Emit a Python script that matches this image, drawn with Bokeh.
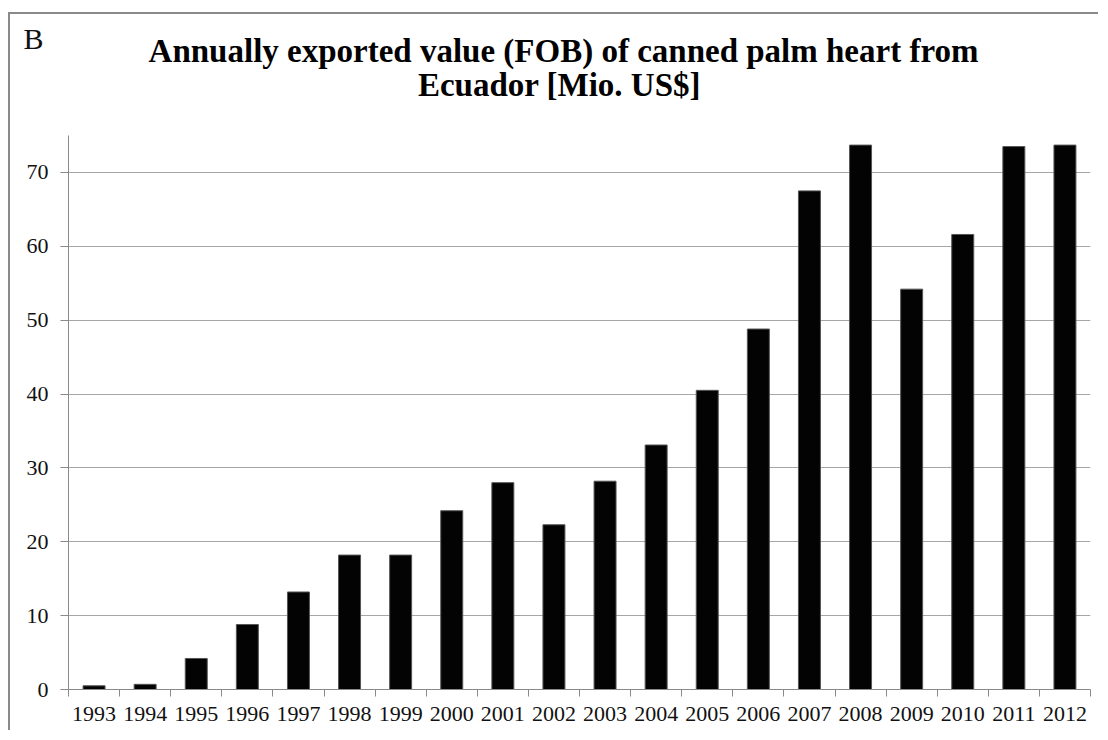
from bokeh.plotting import figure
from bokeh.models import Range1d, FixedTicker, Label, ColumnDataSource
from bokeh.embed import file_html
from bokeh.resources import INLINE

years = ["1993", "1994", "1995", "1996", "1997", "1998", "1999", "2000", "2001", "2002",
         "2003", "2004", "2005", "2006", "2007", "2008", "2009", "2010", "2011", "2012"]
values = [0.5, 0.7, 4.2, 8.8, 13.2, 18.2, 18.2, 24.2, 28.0, 22.3,
          28.2, 33.1, 40.5, 48.8, 67.5, 73.7, 54.2, 61.6, 73.5, 73.7]
y_ticks = [0, 10, 20, 30, 40, 50, 60, 70]
title_line1 = "Annually exported value (FOB) of canned palm heart from"
title_line2 = "Ecuador [Mio. US$]"
panel_letter = "B"

pos = list(range(1, len(years) + 1))
source = ColumnDataSource(dict(x=pos, top=values, year=years))

FONT = "Liberation Serif"

p = figure(width=1090, height=718, output_backend="svg", toolbar_location=None,
           x_range=Range1d(0.5, len(years) + 0.5), y_range=Range1d(0, 75),
           min_border_left=58, min_border_right=10, min_border_top=121, min_border_bottom=43)
p.styles = {"margin-left": "8px", "margin-top": "12px",
            "border-left": "2px solid #8a8a8a", "border-top": "2px solid #8a8a8a"}
p.outline_line_color = None
p.background_fill_color = "white"
p.border_fill_color = "white"

p.vbar(x="x", top="top", width=0.43, bottom=0, source=source,
       fill_color="#030303", line_color="#555555", line_width=1)

# x axis: labels centred on categories, tick marks at category boundaries
xt = FixedTicker(ticks=pos, minor_ticks=[i + 0.5 for i in range(0, len(years) + 1)])
p.xaxis.ticker = xt
p.xaxis.major_label_overrides = {i: y for i, y in zip(pos, years)}
p.xaxis.major_tick_out = 0
p.xaxis.major_tick_in = 0
p.xaxis.minor_tick_out = 7
p.xaxis.minor_tick_in = 0
p.xaxis.minor_tick_line_color = "#8a8a8a"
p.xaxis.axis_line_color = "#8a8a8a"
p.xaxis.major_label_standoff = 10
p.xaxis.major_label_text_font = FONT
p.xaxis.major_label_text_font_size = "22px"
p.xaxis.major_label_text_color = "#111111"

p.yaxis.ticker = FixedTicker(ticks=y_ticks)
p.yaxis.major_tick_out = 8
p.yaxis.major_tick_in = 0
p.yaxis.minor_tick_out = 0
p.yaxis.minor_tick_in = 0
p.yaxis.major_tick_line_color = "#8a8a8a"
p.yaxis.axis_line_color = "#8a8a8a"
p.yaxis.major_label_standoff = 12
p.yaxis.major_label_text_font = FONT
p.yaxis.major_label_text_font_size = "22px"
p.yaxis.major_label_text_color = "#111111"

p.xgrid.grid_line_color = None
p.ygrid.grid_line_color = "#a6a6a6"
p.ygrid.grid_line_width = 1

# header texts, placed in the top border panel (screen units relative to their panel)
p.add_layout(Label(x=495, y=67, x_units="screen", y_units="screen", text=title_line1,
                   text_align="center", text_font=FONT, text_font_style="bold",
                   text_font_size="33px", text_color="#000000"), "above")
p.add_layout(Label(x=491, y=-3, x_units="screen", y_units="screen", text=title_line2,
                   text_align="center", text_font=FONT, text_font_style="bold",
                   text_font_size="33px", text_color="#000000"), "above")
p.add_layout(Label(x=-45, y=9, x_units="screen", y_units="screen", text=panel_letter,
                   text_font=FONT, text_font_size="30px", text_color="#111111"), "above")

open("out.html", "w").write(file_html(p, INLINE))
